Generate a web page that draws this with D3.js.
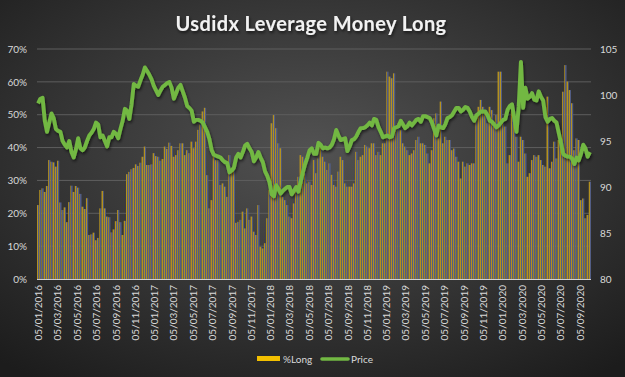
<!DOCTYPE html>
<html>
<head>
<meta charset="utf-8">
<script src="https://cdn.jsdelivr.net/npm/d3@7"></script>
<style>
  html, body { margin: 0; padding: 0; background: #2a2a2a; }
  svg { display: block; font-family: Lato, "Open Sans", sans-serif; }
</style>
</head>
<body>
<svg class="levChart" width="625" height="377"></svg>
<script>
// weekly COT dates (Tuesdays), first one 05/01/2016
var firstWeek = new Date(2016, 0, 5);
var weekCount = 249;

// %Long
var longPct = [
  22.5, 27.1, 27.6, 26.5, 28.3, 36.2, 35.7, 35.5, 34.2, 36.0,
  23.3, 21.0, 21.8, 17.3, 23.4, 28.4, 26.5, 28.3, 27.8, 25.9,
  22.0, 21.3, 24.6, 13.4, 13.6, 14.1, 11.8, 12.5, 21.5, 26.8,
  21.5, 19.0, 18.8, 14.2, 15.1, 17.6, 21.0, 17.3, 13.4, 17.7,
  31.9, 32.6, 33.4, 33.8, 34.9, 34.4, 35.4, 37.2, 40.3, 34.7,
  34.7, 34.9, 38.3, 37.4, 37.2, 36.0, 36.5, 40.3, 39.6, 41.5,
  40.5, 37.2, 37.7, 39.2, 41.3, 41.3, 37.7, 39.2, 38.3, 41.8,
  39.8, 41.8, 45.4, 47.0, 51.0, 52.1, 31.6, 21.5,
  24.0, 37.2, 36.2, 36.2, 28.6, 29.1, 28.1, 25.0, 37.7, 32.2,
  34.2, 17.1, 17.4, 18.0, 20.5, 15.4, 21.5, 18.0, 19.0, 14.4,
  13.4, 22.5, 9.8, 9.3, 10.9, 18.5, 27.1, 47.4, 49.9, 45.9,
  41.3, 39.8, 25.0, 24.0, 22.5, 19.0, 18.5, 23.0, 28.1, 31.1,
  37.7, 37.2, 32.2, 29.1, 29.6, 28.6, 36.2, 32.2, 36.7, 41.3,
  37.2, 35.7, 33.2, 35.2, 31.7, 28.6, 28.1, 32.7, 37.2, 36.2,
  29.1, 28.1, 28.1, 28.1, 29.1, 38.7, 36.2, 37.2, 37.7, 40.8,
  40.3, 39.8, 41.3, 41.3, 37.7, 38.7, 37.7, 41.3, 41.3, 63.1,
  61.6, 61.1, 62.6, 45.3, 47.4,
  45.3, 41.3, 40.3, 39.2, 37.7, 38.2, 39.2, 42.3, 43.3, 41.3,
  41.3, 40.8, 38.2, 35.2, 39.2, 48.9, 50.4, 42.8, 54.0, 41.3,
  43.3, 42.3, 42.3, 39.2, 39.7, 37.2, 35.7, 30.6, 35.7, 34.2,
  35.2, 34.7, 35.2, 35.2, 47.9, 52.4, 54.5, 52.4, 51.4, 47.4,
  52.4, 51.4, 46.4, 49.9, 63.1, 63.1, 47.4, 46.4, 35.2, 37.7,
  51.9, 47.9, 43.3, 35.7, 43.3, 42.3, 38.2, 31.1, 32.2, 36.2,
  37.7, 37.2, 37.7, 36.2, 34.7, 34.2, 55.5, 33.7, 35.7, 41.8,
  36.7, 42.3, 42.3, 57.0, 65.1, 60.1, 57.5, 53.5, 39.2, 42.8,
  42.3, 24.0, 24.5, 18.5, 19.5, 29.6
];

// dollar index price
var price = [
  99.1, 99.6, 99.7, 97.2, 96.0, 97.0, 98.0, 97.5, 96.3, 96.1,
  96.0, 95.0, 94.6, 94.3, 95.0, 93.8, 93.2, 94.1, 95.3, 94.2,
  94.0, 94.3, 95.0, 95.6, 95.9, 96.3, 97.0, 96.8, 95.4, 95.6,
  95.0, 94.4, 95.4, 95.4, 96.0, 95.8, 95.3, 96.3, 97.2, 98.5,
  98.3, 97.4, 99.0, 101.2, 101.0, 100.9, 101.6, 102.2, 103.0, 102.6,
  102.2, 101.7, 101.0, 100.5, 100.0, 100.5, 100.9, 101.1, 101.3, 101.4,
  100.8, 99.6, 100.2, 100.8, 101.1, 100.4, 99.7, 98.8, 98.6, 98.3,
  97.1, 97.3, 97.3, 97.2, 97.0, 96.5, 96.0, 95.2, 94.0, 93.5,
  93.4, 93.3, 93.2, 92.9, 92.7, 92.6, 91.6, 91.8, 92.1, 93.2,
  93.6, 93.2, 93.8, 94.5, 94.7, 94.2, 93.8, 92.8, 93.2, 93.8,
  93.2, 92.7, 91.7, 91.2, 90.5, 89.2, 89.0, 90.2, 89.8, 89.3,
  89.6, 89.8, 90.0, 90.0, 89.2, 89.6, 90.0, 89.5, 90.6, 91.6,
  92.5, 93.2, 94.0, 94.2, 93.6, 93.6, 94.8, 94.6, 94.2, 94.3,
  94.2, 94.3, 94.6, 95.2, 96.2, 95.6, 95.1, 95.2, 95.3, 93.9,
  94.4, 95.1, 95.2, 95.5, 96.0, 96.4, 96.4, 96.5, 96.7, 97.0,
  96.7, 97.4, 97.3, 96.5, 96.0, 95.4, 95.5, 95.6, 95.4, 95.5,
  96.4, 96.5, 96.6, 97.2, 96.8, 96.4, 96.6, 97.0, 96.7, 97.0,
  97.3, 97.4, 97.1, 97.7, 97.7, 97.6, 97.5, 97.0, 96.3, 95.6,
  96.7, 96.5, 96.4, 96.8, 97.5, 97.6, 97.8, 98.2, 98.6, 98.6,
  98.2, 98.4, 98.7, 98.6, 98.2, 97.6, 97.2, 97.8, 98.0, 98.2,
  98.2, 98.2, 97.8, 97.2, 97.1, 96.8, 96.5, 96.7, 97.0, 97.3,
  97.4, 98.4, 98.8, 99.0, 97.5, 96.0, 98.7, 103.6, 98.6, 100.8,
  99.6, 99.8, 100.2, 99.5, 99.4, 100.4, 99.8, 99.4, 97.6, 97.1,
  97.4, 97.5, 97.2, 97.0, 95.9, 94.8, 93.6, 93.4, 93.3, 93.3,
  93.1, 92.5, 93.2, 92.9, 93.6, 94.6, 94.2, 93.3, 93.8
];

var pctTicks = [0, 10, 20, 30, 40, 50, 60, 70];
var priceTicks = [80, 85, 90, 95, 100, 105];

var weeks = d3.range(weekCount).map(function(i) { return d3.timeDay.offset(firstWeek, 7 * i); });
var rows = weeks.map(function(d, i) { return { date: d, pct: longPct[i], price: price[i] }; });

// date labels every two months on the 5th
var dateTicks = d3.range(0, 57, 2).map(function(m) { return new Date(2016, m, 5); });

var plotLeft = 37, plotRight = 591, plotTop = 49, plotBottom = 279;

var svg = d3.select('svg.levChart');
var defs = svg.append('defs');

var bg = defs.append('radialGradient').attr('id', 'bg')
  .attr('cx', '50%').attr('cy', '40%').attr('r', '75%');
bg.append('stop').attr('offset', '0%').attr('stop-color', '#525252');
bg.append('stop').attr('offset', '100%').attr('stop-color', '#1c1c1c');

// Excel-style striped bars: gold half, slate half
var barFill = defs.append('linearGradient').attr('id', 'barFill')
  .attr('x1', '0%').attr('x2', '100%').attr('y1', '0%').attr('y2', '0%');
barFill.append('stop').attr('offset', '0%').attr('stop-color', '#b39120');
barFill.append('stop').attr('offset', '46%').attr('stop-color', '#b39120');
barFill.append('stop').attr('offset', '46%').attr('stop-color', '#525d85');
barFill.append('stop').attr('offset', '100%').attr('stop-color', '#525d85');

var shadow = defs.append('filter').attr('id', 'shadow')
  .attr('x', '-10%').attr('y', '-10%').attr('width', '120%').attr('height', '130%');
shadow.append('feDropShadow').attr('dx', 1).attr('dy', 2)
  .attr('stdDeviation', 1.5).attr('flood-color', '#000').attr('flood-opacity', 0.6);

svg.append('rect').attr('width', 625).attr('height', 377).attr('fill', 'url(#bg)');

var x = d3.scaleTime()
  .domain([d3.timeHour.offset(firstWeek, -84), d3.timeHour.offset(weeks[weekCount - 1], 84)])
  .range([plotLeft, plotRight]);
var yPct = d3.scaleLinear().domain([0, 70]).range([plotBottom, plotTop]);
var yPrice = d3.scaleLinear().domain([80, 105]).range([plotBottom, plotTop]);

// gridlines
svg.append('g')
  .selectAll('line')
  .data(pctTicks.slice(1))
  .enter()
  .append('line')
  .attr('x1', plotLeft).attr('x2', plotRight)
  .attr('y1', function(d) { return yPct(d); })
  .attr('y2', function(d) { return yPct(d); })
  .attr('stroke', '#5e5e5e')
  .attr('stroke-width', 1);

// bars
svg.append('g')
  .selectAll('rect')
  .data(rows)
  .enter()
  .append('rect')
  .attr('x', function(d) { return x(d3.timeHour.offset(d.date, -84)); })
  .attr('width', function(d) { return x(d3.timeHour.offset(d.date, 84)) - x(d3.timeHour.offset(d.date, -84)); })
  .attr('y', function(d) { return yPct(d.pct); })
  .attr('height', function(d) { return plotBottom - yPct(d.pct); })
  .attr('fill', 'url(#barFill)');

// axis line at the bottom
svg.append('line')
  .attr('x1', plotLeft).attr('x2', plotRight)
  .attr('y1', plotBottom + 0.5).attr('y2', plotBottom + 0.5)
  .attr('stroke', '#d0d0d0').attr('stroke-width', 1.2);

// price line
var line = d3.line()
  .x(function(d) { return x(d.date); })
  .y(function(d) { return yPrice(d.price); });

svg.append('path')
  .datum(rows)
  .attr('d', line)
  .attr('fill', 'none')
  .attr('stroke', '#72b843')
  .attr('stroke-width', 3.9)
  .attr('stroke-linejoin', 'round')
  .attr('filter', 'url(#shadow)');

// axes
var leftAxis = svg.append('g')
  .attr('transform', 'translate(' + plotLeft + ',0)')
  .call(d3.axisLeft(yPct).tickValues(pctTicks).tickSize(0).tickPadding(10)
    .tickFormat(function(d) { return d + '%'; }));
var rightAxis = svg.append('g')
  .attr('transform', 'translate(' + plotRight + ',0)')
  .call(d3.axisRight(yPrice).tickValues(priceTicks).tickSize(0).tickPadding(9));
var bottomAxis = svg.append('g')
  .attr('transform', 'translate(0,' + plotBottom + ')')
  .call(d3.axisBottom(x).tickValues(dateTicks).tickSize(0)
    .tickFormat(d3.timeFormat('%d/%m/%Y')));

[leftAxis, rightAxis, bottomAxis].forEach(function(ax) {
  ax.select('.domain').remove();
  ax.selectAll('text')
    .attr('fill', '#d9d9d9')
    .style('font-size', '10px')
    .style('font-family', 'Lato, sans-serif');
});

bottomAxis.selectAll('text')
  .attr('transform', 'rotate(-90)')
  .attr('text-anchor', 'end')
  .attr('x', -6)
  .attr('y', 0)
  .attr('dy', '0.35em');

// title
svg.append('text')
  .attr('x', 311)
  .attr('y', 31)
  .attr('text-anchor', 'middle')
  .attr('fill', '#f2f2f2')
  .attr('filter', 'url(#shadow)')
  .style('font-size', '20px')
  .style('font-weight', 'bold')
  .style('letter-spacing', '0.4px')
  .text('Usdidx Leverage Money Long');

// legend
var legend = svg.append('g').attr('class', 'legend');
legend.append('rect')
  .attr('x', 257).attr('y', 356).attr('width', 23).attr('height', 5)
  .attr('fill', '#f2bf00');
legend.append('text')
  .attr('x', 283).attr('y', 359).attr('dy', '0.35em')
  .attr('fill', '#d9d9d9').style('font-size', '10px')
  .text('%Long');
legend.append('line')
  .attr('x1', 322).attr('x2', 348).attr('y1', 359).attr('y2', 359)
  .attr('stroke', '#72b843').attr('stroke-width', 3.6).attr('stroke-linecap', 'round');
legend.append('text')
  .attr('x', 351).attr('y', 359).attr('dy', '0.35em')
  .attr('fill', '#d9d9d9').style('font-size', '10px')
  .text('Price');
</script>
</body>
</html>
